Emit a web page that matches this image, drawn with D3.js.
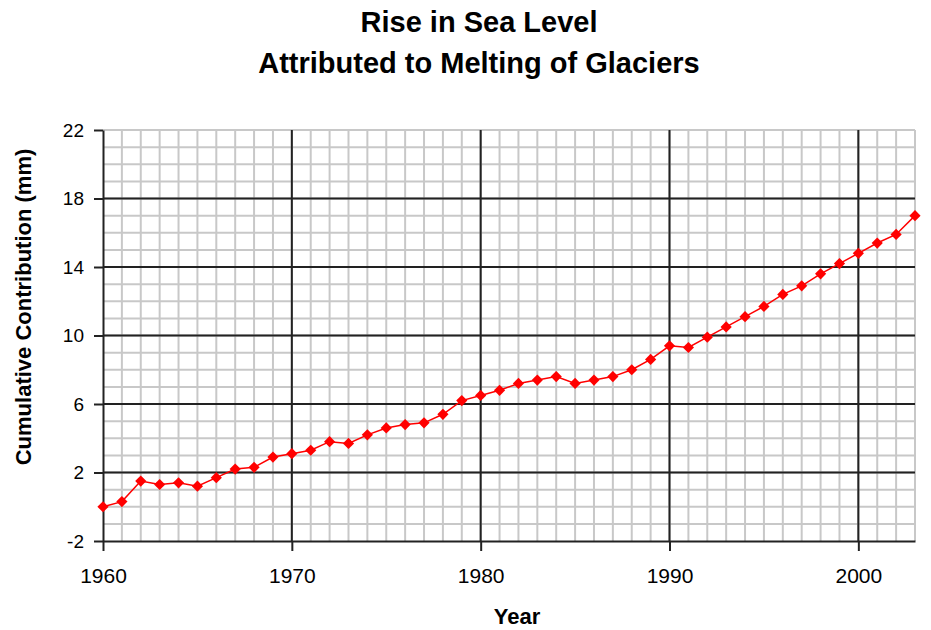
<!DOCTYPE html>
<html>
<head>
<meta charset="utf-8">
<script src="https://cdn.jsdelivr.net/npm/d3@7"></script>
<style>
  body { margin: 0; background: #fff; }
  text { font-family: "Liberation Sans", Arial, sans-serif; fill: #000; }
</style>
</head>
<body>
<div id="chart"></div>
<script>
// chart data
const years = d3.range(1960, 2004);
const seaLevel = [
  0.0, 0.3, 1.5, 1.3, 1.4, 1.2, 1.7, 2.2, 2.3, 2.9,
  3.1, 3.3, 3.8, 3.7, 4.2, 4.6, 4.8, 4.9, 5.4, 6.2,
  6.5, 6.8, 7.2, 7.4, 7.6, 7.2, 7.4, 7.6, 8.0, 8.6,
  9.4, 9.3, 9.9, 10.5, 11.1, 11.7, 12.4, 12.9, 13.6, 14.2,
  14.8, 15.4, 15.9, 17.0
];
const yTicks = [-2, 2, 6, 10, 14, 18, 22];
const xTicks = [1960, 1970, 1980, 1990, 2000];
const titleLines = ["Rise in Sea Level", "Attributed to Melting of Glaciers"];

const width = 931, height = 630;
const margin = {top: 130, right: 16, bottom: 89, left: 103};

const svg = d3.select("#chart")
  .append("svg")
  .attr("width", width)
  .attr("height", height);

const x = d3.scaleLinear()
  .domain([1960, 2003])
  .range([margin.left, width - margin.right]);

const y = d3.scaleLinear()
  .domain([-2, 22])
  .range([height - margin.bottom, margin.top]);

// minor grid: every year / every unit
const grid = svg.append("g");
grid.selectAll(".vminor")
  .data(d3.range(1961, 2004))
  .enter().append("line")
  .attr("x1", d => x(d)).attr("x2", d => x(d))
  .attr("y1", y(-2)).attr("y2", y(22))
  .attr("stroke", "#c8c8c8").attr("stroke-width", 2);
grid.selectAll(".hminor")
  .data(d3.range(-1, 23))
  .enter().append("line")
  .attr("x1", x(1960)).attr("x2", x(2003))
  .attr("y1", d => y(d)).attr("y2", d => y(d))
  .attr("stroke", "#c8c8c8").attr("stroke-width", 2);

// major grid
grid.selectAll(".vmajor")
  .data(xTicks.slice(1))
  .enter().append("line")
  .attr("x1", d => x(d)).attr("x2", d => x(d))
  .attr("y1", y(-2)).attr("y2", y(22))
  .attr("stroke", "#222").attr("stroke-width", 2);
grid.selectAll(".hmajor")
  .data(yTicks.slice(1, -1))
  .enter().append("line")
  .attr("x1", x(1960)).attr("x2", x(2003))
  .attr("y1", d => y(d)).attr("y2", d => y(d))
  .attr("stroke", "#222").attr("stroke-width", 2);

// axes (plain hyphen for negatives, like the original)
const yAxis = svg.append("g")
  .attr("transform", `translate(${margin.left},0)`)
  .call(d3.axisLeft(y).tickValues(yTicks).tickFormat(d => String(d))
    .tickSize(9).tickPadding(10).tickSizeOuter(0));
const xAxis = svg.append("g")
  .attr("transform", `translate(0,${height - margin.bottom})`)
  .call(d3.axisBottom(x).tickValues(xTicks).tickFormat(d3.format("d"))
    .tickSize(10).tickPadding(17).tickSizeOuter(0));

[yAxis, xAxis].forEach(g => {
  g.select(".domain").attr("stroke", "#222").attr("stroke-width", 2);
  g.selectAll(".tick line").attr("stroke", "#222").attr("stroke-width", 2);
  g.selectAll(".tick text").attr("fill", "#111").style("font-family", "'Liberation Sans', Arial, sans-serif");
});
yAxis.selectAll(".tick text").style("font-size", "19px");
xAxis.selectAll(".tick text").style("font-size", "21px");

// series
const line = d3.line()
  .x((d, i) => x(years[i]))
  .y(d => y(d));

svg.append("path")
  .datum(seaLevel)
  .attr("fill", "none")
  .attr("stroke", "#ff0000")
  .attr("stroke-width", 1.5)
  .attr("d", line);

svg.selectAll(".pt")
  .data(seaLevel)
  .enter().append("path")
  .attr("class", "pt")
  .attr("transform", (d, i) => `translate(${x(years[i])},${y(d)})`)
  .attr("d", d3.symbol(d3.symbolDiamond2, 80))
  .attr("fill", "#ff0000");

// titles
svg.selectAll(".title")
  .data(titleLines)
  .enter().append("text")
  .attr("x", 479)
  .attr("y", (d, i) => 32 + i * 41)
  .attr("text-anchor", "middle")
  .style("font-size", "29px")
  .style("font-weight", "bold")
  .text(d => d);

svg.append("text")
  .attr("x", 517)
  .attr("y", 624)
  .attr("text-anchor", "middle")
  .style("font-size", "22px")
  .style("font-weight", "bold")
  .text("Year");

svg.append("text")
  .attr("transform", "translate(31,307) rotate(-90)")
  .attr("text-anchor", "middle")
  .style("font-size", "22px")
  .style("font-weight", "bold")
  .text("Cumulative Contribution (mm)");
</script>
</body>
</html>
